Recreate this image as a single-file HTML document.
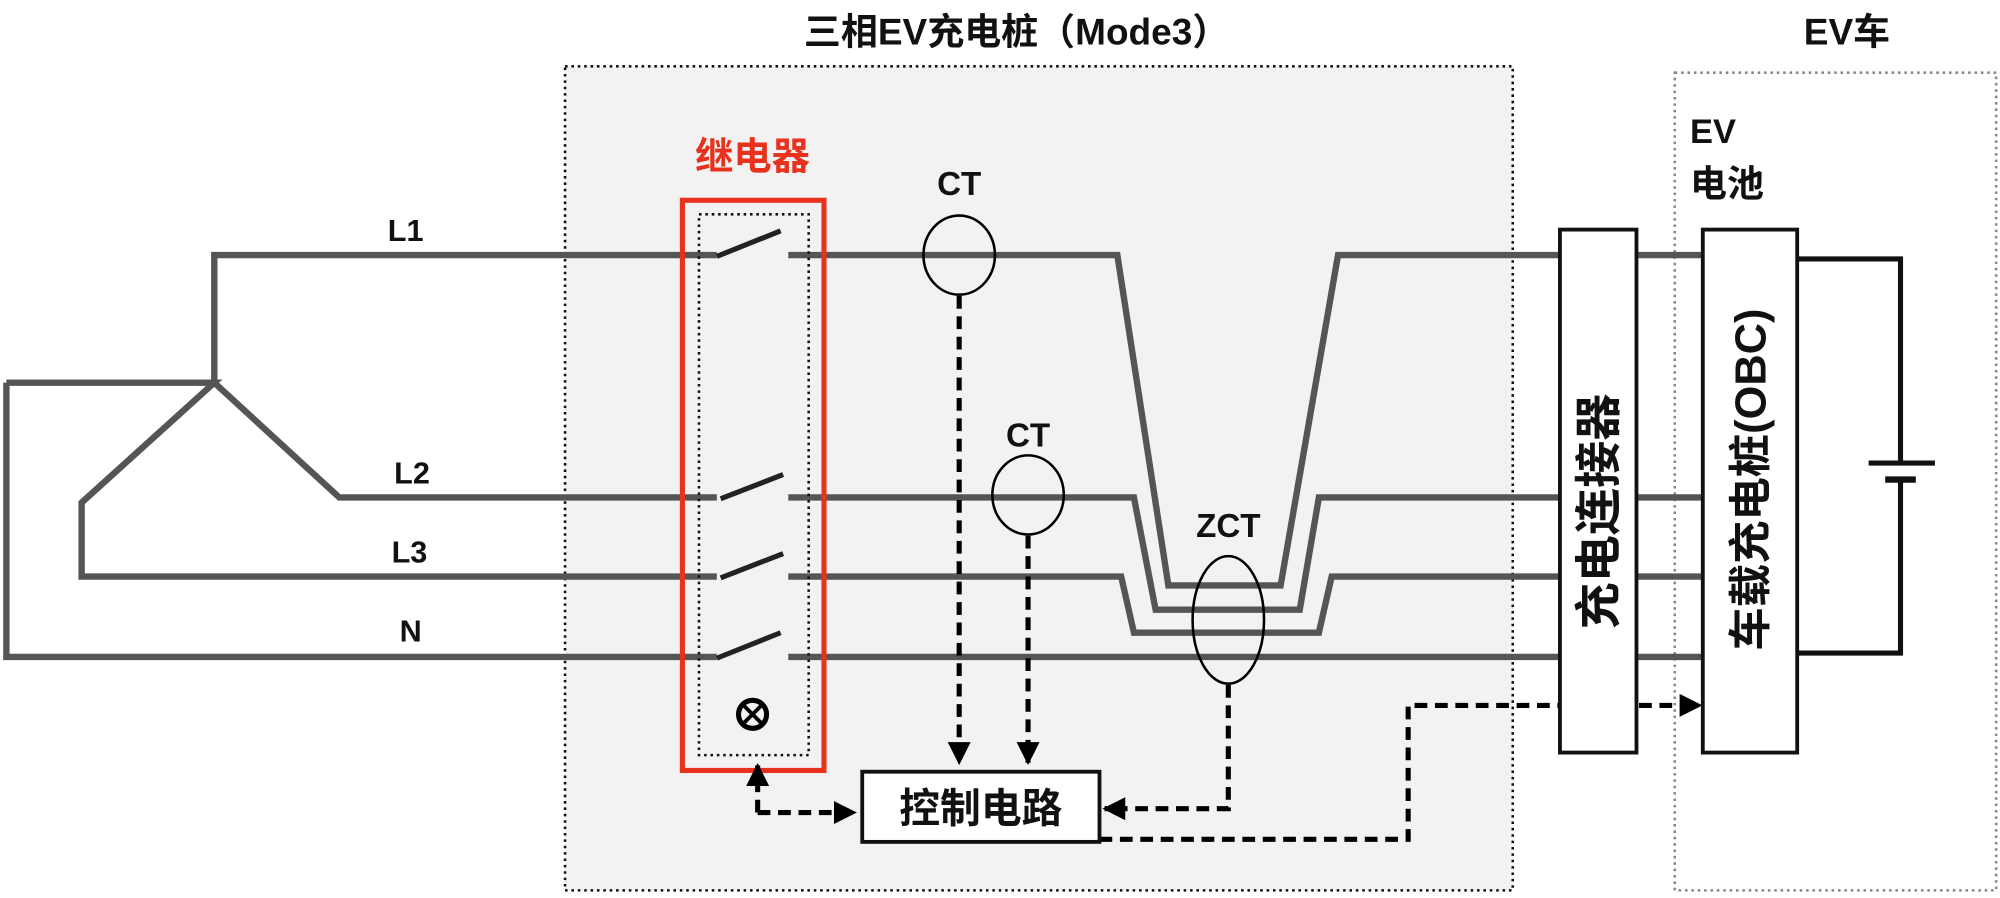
<!DOCTYPE html>
<html><head><meta charset="utf-8"><style>
html,body{margin:0;padding:0;background:#fff;width:2000px;height:898px;overflow:hidden}
svg{display:block}
text{font-family:"Liberation Sans","Noto Sans CJK SC",sans-serif;font-weight:bold;fill:#111}
</style></head><body>
<svg width="2000" height="898" viewBox="0 0 1568 704" preserveAspectRatio="none">
<defs>
<marker id="ah" viewBox="0 0 10 10" refX="9" refY="5" markerWidth="4.5" markerHeight="4.5" orient="auto"><path d="M0,0 L10,5 L0,10 z" fill="#000"/></marker>
</defs>
<rect x="443" y="52" width="743" height="646" fill="#f2f2f2" stroke="#111" stroke-width="2" stroke-dasharray="2,3"/>
<rect x="1313" y="57" width="252" height="641" fill="#fff" stroke="#888" stroke-width="2" stroke-dasharray="2,3"/>
<text x="797" y="35" font-size="29" text-anchor="middle">三相EV充电桩（Mode3）</text>
<text x="1448" y="35" font-size="29" text-anchor="middle">EV车</text>
<text x="590" y="133" font-size="30" text-anchor="middle" style="fill:#e8321e">继电器</text>
<g fill="none" stroke="#555" stroke-width="5">
<path d="M562,200 H168 V300 M5,300 H168 L64,394 V452 H562 M168,300 L266,390 H562 M562,515 H5 V300"/>
<path d="M618,200 H876 L916,459 H1004 L1049,200 H1222"/>
<path d="M618,390 H889 L906,478 H1019 L1034,390 H1222"/>
<path d="M618,452 H879 L889,496 H1034 L1044,452 H1222"/>
<path d="M618,515 H1222"/>
<path d="M1283,200 H1335 M1283,390 H1335 M1283,452 H1335 M1283,515 H1335"/>
</g>
<g stroke="#222" stroke-width="4">
<line x1="562" y1="201" x2="612" y2="181"/>
<line x1="565" y1="391" x2="614" y2="372"/>
<line x1="565" y1="453" x2="614" y2="434"/>
<line x1="562" y1="516" x2="612" y2="496"/>
</g>
<rect x="548" y="168" width="86" height="424" fill="none" stroke="#111" stroke-width="2" stroke-dasharray="2,3"/>
<rect x="535" y="157" width="111" height="447" fill="none" stroke="#e8321e" stroke-width="4"/>
<circle cx="590" cy="560" r="11" fill="none" stroke="#000" stroke-width="4"/>
<path d="M583,553 L597,567 M597,553 L583,567" stroke="#000" stroke-width="3"/>
<g fill="none" stroke="#000" stroke-width="2">
<ellipse cx="752" cy="200" rx="28" ry="31"/>
<ellipse cx="806" cy="388" rx="28" ry="31"/>
<ellipse cx="963" cy="486" rx="28" ry="50"/>
</g>
<text x="752" y="153" font-size="26" text-anchor="middle">CT</text>
<text x="806" y="350" font-size="26" text-anchor="middle">CT</text>
<text x="963" y="421" font-size="26" text-anchor="middle">ZCT</text>
<g fill="none" stroke="#000" stroke-width="4" stroke-dasharray="10,6">
<path d="M752,232 V598" marker-end="url(#ah)"/>
<path d="M806,420 V598" marker-end="url(#ah)"/>
<path d="M963,537 V634 H866" marker-end="url(#ah)"/>
<path d="M594,637 V600" marker-end="url(#ah)"/>
<path d="M594,637 H670" marker-end="url(#ah)"/>
<path d="M862,658 H1104 V553 H1333" marker-end="url(#ah)"/>
</g>
<rect x="676" y="605" width="186" height="55" fill="#fff" stroke="#111" stroke-width="3"/>
<text x="769" y="645" font-size="32" text-anchor="middle">控制电路</text>
<rect x="1223" y="180" width="60" height="410" fill="#fff" stroke="#111" stroke-width="3"/>
<rect x="1335" y="180" width="74" height="410" fill="#fff" stroke="#111" stroke-width="3"/>
<text transform="translate(1266,401) rotate(-90)" font-size="37" text-anchor="middle">充电连接器</text>
<text transform="translate(1384,376) rotate(-90)" font-size="34" text-anchor="middle">车载充电桩(OBC)</text>
<g fill="none" stroke="#111" stroke-width="4">
<path d="M1409,203 H1490 V363 M1490,376 V512 H1409"/>
<line x1="1465" y1="363" x2="1517" y2="363"/>
<line x1="1478" y1="376" x2="1502" y2="376" stroke-width="5"/>
</g>
<text x="1325" y="112" font-size="27">EV</text>
<text x="1325" y="154" font-size="29">电池</text>
<text x="318" y="189" font-size="24" text-anchor="middle">L1</text>
<text x="323" y="379" font-size="24" text-anchor="middle">L2</text>
<text x="321" y="441" font-size="24" text-anchor="middle">L3</text>
<text x="322" y="503" font-size="24" text-anchor="middle">N</text>
</svg>
</body></html>
